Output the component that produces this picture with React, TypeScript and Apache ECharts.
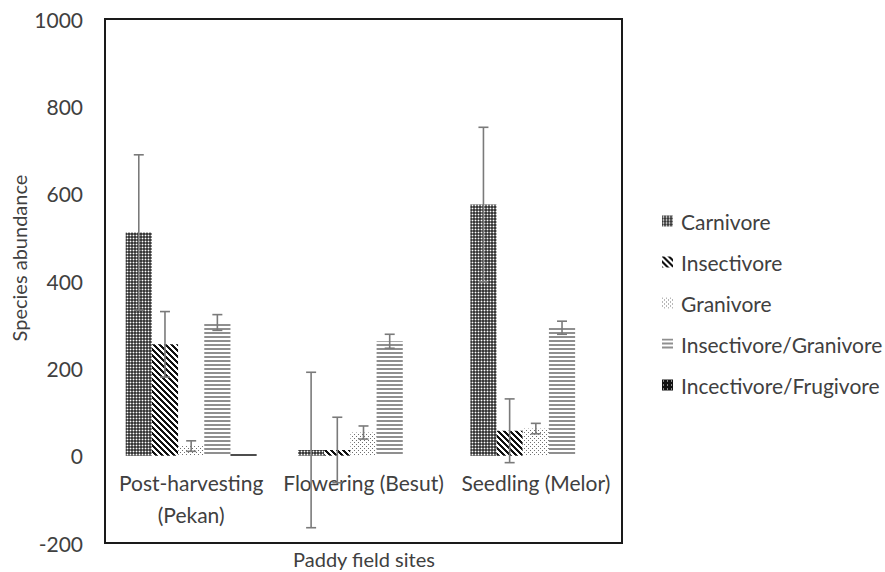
import React, { useEffect, useRef } from 'react';
import * as echarts from 'echarts';

const categories = ['Post-harvesting\n(Pekan)', 'Flowering (Besut)', 'Seedling (Melor)'];
const seriesNames = ['Carnivore', 'Insectivore', 'Granivore', 'Insectivore/Granivore', 'Incectivore/Frugivore'];

const carnivore = [511, 13, 575];
const insectivore = [255, 13, 57];
const granivore = [22, 53, 62];
const insectGran = [305, 262, 293];
const incectFrug = [3, 0, 0];

const carnivoreErr = [178, 178, 177];
const insectivoreErr = [75, 75, 73];
const granivoreErr = [12, 15, 12];
const insectGranErr = [18, 16, 15];
const incectFrugErr = [0, 0, 0];

const yMin = -200;
const yMax = 1000;
const yStep = 200;

const FONT = 'Lato';
const TXT = '#404040';

const GRID_TOP = 19;
const GRID_H = 524;

function tile(w: number, h: number, fn: (x: number, y: number) => string | null) {
  const c = document.createElement('canvas');
  c.width = w;
  c.height = h;
  const ctx = c.getContext('2d')!;
  ctx.fillStyle = '#ffffff';
  ctx.fillRect(0, 0, w, h);
  for (let y = 0; y < h; y++) {
    for (let x = 0; x < w; x++) {
      const col = fn(x, y);
      if (col) {
        ctx.fillStyle = col;
        ctx.fillRect(x, y, 1, 1);
      }
    }
  }
  return { image: c, repeat: 'repeat', imageWidth: w, imageHeight: h } as any;
}

export default function App() {
  const ref = useRef<HTMLDivElement>(null);
  useEffect(() => {
    if (!ref.current) return;
    const chart = echarts.init(ref.current, null, { renderer: 'svg' });

    const patterns = [
      tile(3, 3, (x, y) => (x === 1 && y === 1 ? null : (x + y) % 2 === 0 ? '#3a3a3a' : '#7a7a7a')),
      tile(6, 6, (x, y) => ((((x - y) % 6) + 6) % 6 < 3 ? '#111111' : null)),
      tile(4, 4, (x, y) => ((x === 0 && y === 0) || (x === 2 && y === 2) ? '#707070' : null)),
      tile(4, 4, (x, y) => (y < 2 ? '#8f8f8f' : null)),
      tile(4, 4, (x, y) => (x === 1 && y === 1 ? '#ffffff' : '#111111')),
    ];

    const values = [carnivore, insectivore, granivore, insectGran, incectFrug];
    const errs = [carnivoreErr, insectivoreErr, granivoreErr, insectGranErr, incectFrugErr];
    const errData: number[][] = [];
    values.forEach((vals, si) =>
      vals.forEach((v, ci) => {
        if (errs[si][ci] > 0) errData.push([ci, v, errs[si][ci], si]);
      })
    );

    const catGap = 0.24;
    // distance from grid bottom (y = yMin) up to y = 0
    const zeroOffset = (GRID_H * (0 - yMin)) / (yMax - yMin);

    const barSeries = seriesNames.map((name, i) => ({
      name,
      type: 'bar',
      data: values[i],
      barGap: '0%',
      barCategoryGap: catGap * 100 + '%',
      itemStyle: { color: patterns[i] },
      emphasis: { disabled: true },
    }));

    chart.setOption({
      animation: false,
      backgroundColor: '#ffffff',
      grid: {
        left: 105,
        top: GRID_TOP,
        width: 517,
        height: GRID_H,
        show: true,
        borderColor: '#1a1a1a',
        borderWidth: 2,
        containLabel: false,
        outerBoundsMode: 'none',
      },
      legend: {
        data: seriesNames,
        orient: 'vertical',
        left: 657,
        top: 205,
        itemWidth: 11,
        itemHeight: 11,
        itemGap: 19,
        icon: 'rect',
        selectedMode: false,
        textStyle: { fontFamily: FONT, fontSize: 21, color: TXT, lineHeight: 22, padding: [0, 0, 0, 3] },
      },
      xAxis: {
        type: 'category',
        data: categories,
        position: 'bottom',
        offset: -zeroOffset,
        axisLine: { show: false, onZero: false },
        axisTick: { show: false },
        axisLabel: {
          interval: 0,
          fontFamily: FONT,
          fontSize: 21,
          color: TXT,
          lineHeight: 32,
          margin: 11,
        },
        splitLine: { show: false },
      },
      yAxis: {
        type: 'value',
        min: yMin,
        max: yMax,
        interval: yStep,
        axisLine: { show: false },
        axisTick: { show: false },
        splitLine: { show: false },
        axisLabel: {
          fontFamily: FONT,
          fontSize: 21,
          color: TXT,
          margin: 22,
          formatter: (v: number) => String(v),
        },
      },
      graphic: [
        {
          type: 'text',
          x: 19,
          y: 258,
          rotation: Math.PI / 2,
          style: {
            text: 'Species abundance',
            fontFamily: FONT,
            fontSize: 20,
            fill: TXT,
            align: 'center',
            verticalAlign: 'middle',
          },
        },
        {
          type: 'text',
          x: 364,
          y: 559,
          style: {
            text: 'Paddy field sites',
            fontFamily: FONT,
            fontSize: 20,
            fill: TXT,
            align: 'center',
            verticalAlign: 'middle',
          },
        },
      ],
      series: [
        ...barSeries,
        {
          type: 'custom',
          name: 'err',
          data: errData,
          encode: { x: 0, y: 1 },
          z: 5,
          renderItem: (params: any, api: any) => {
            const ci = api.value(0);
            const v = api.value(1);
            const e = api.value(2);
            const si = api.value(3);
            const band = api.size([1, 0])[0];
            const barW = (band * (1 - catGap)) / 5;
            const x = api.coord([ci, v])[0] + (si - 2) * barW;
            const yTop = api.coord([ci, v + e])[1];
            const yBot = api.coord([ci, v - e])[1];
            const cap = 5;
            const style = { stroke: '#7a7a7a', lineWidth: 1.6 };
            return {
              type: 'group',
              children: [
                { type: 'line', shape: { x1: x, y1: yTop, x2: x, y2: yBot }, style },
                { type: 'line', shape: { x1: x - cap, y1: yTop, x2: x + cap, y2: yTop }, style },
                { type: 'line', shape: { x1: x - cap, y1: yBot, x2: x + cap, y2: yBot }, style },
              ],
            };
          },
        },
      ],
    });

    return () => chart.dispose();
  }, []);

  return <div ref={ref} style={{ position: 'absolute', left: 0, top: 0, width: 885, height: 572 }} />;
}
